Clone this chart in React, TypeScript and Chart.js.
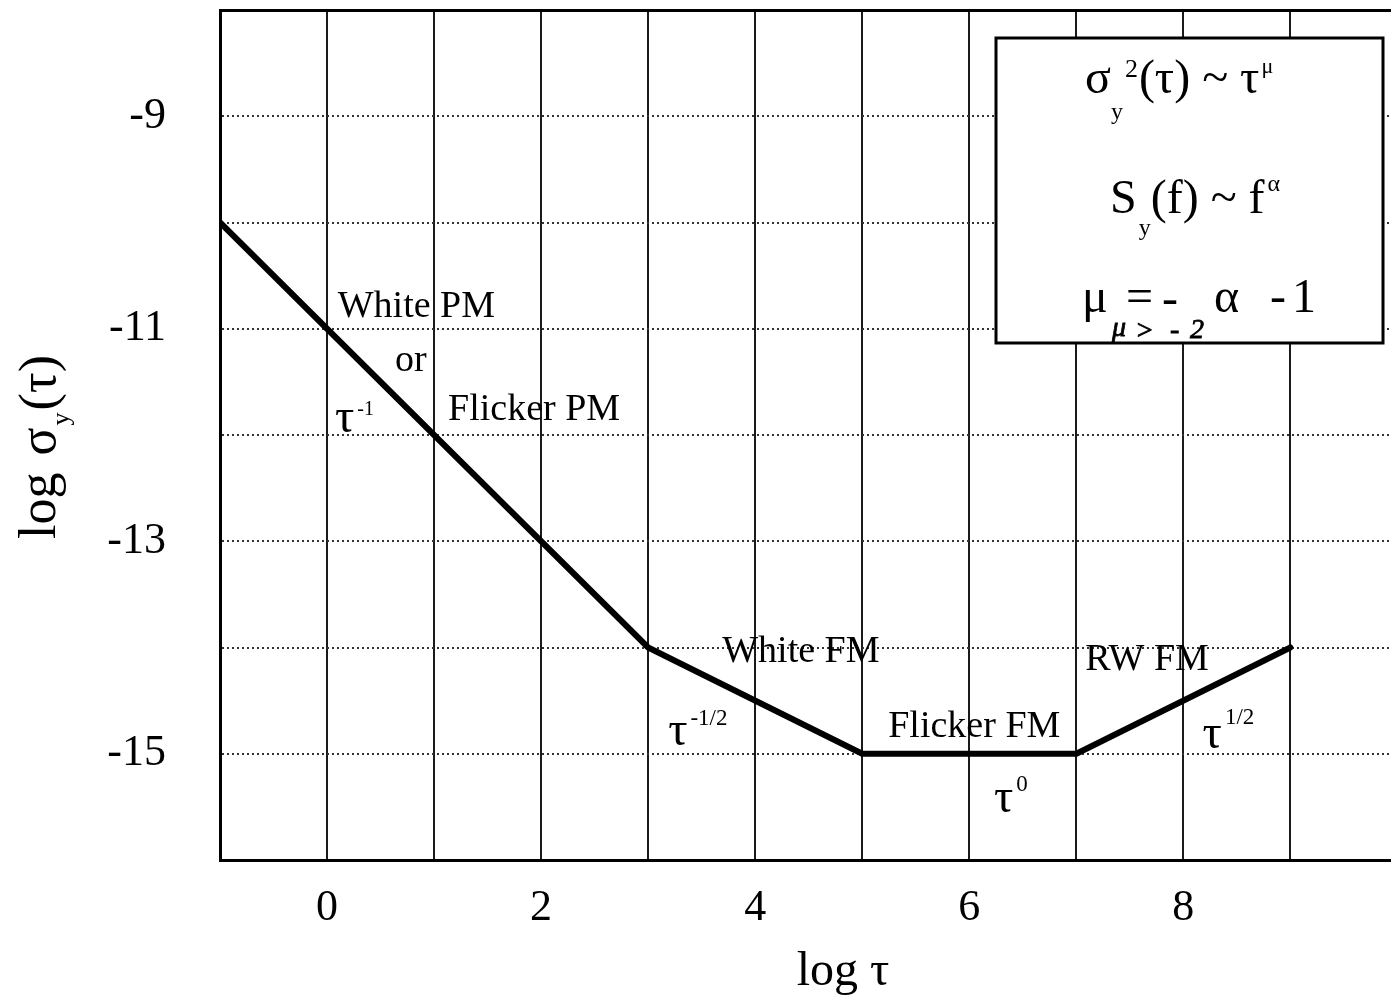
import React, { useEffect, useRef } from "react";
import { Chart, registerables } from "chart.js";

Chart.register(...registerables);

// ---- data ----
const logTau = [-1, 0, 1, 2, 3, 5, 7, 9];
const logSigma = [-10, -11, -12, -13, -14, -15, -15, -14];
const xGridValues = [-1, 0, 1, 2, 3, 4, 5, 6, 7, 8, 9];
const xTickLabels = ["0", "2", "4", "6", "8"];
const yGridValues = [-16, -15, -14, -13, -12, -11, -10, -9, -8];
const yTickLabels = ["-9", "-11", "-13", "-15"];
const X_MIN = -1;
const X_MAX = 9.94;
const Y_MIN = -16;
const Y_MAX = -8;

const SERIF = "'Liberation Serif', 'Times New Roman', serif";

type Seg = { t: string; size: number; dy?: number; gap?: number; italic?: boolean; noAdvance?: boolean };

const regionLabels: { x: number; y: number; segs: Seg[] }[] = [
  { x: 0.1, y: -10.89, segs: [{ t: "White PM", size: 38 }] },
  { x: 0.636, y: -11.4, segs: [{ t: "or", size: 38 }] },
  { x: 0.075, y: -11.97, segs: [{ t: "τ", size: 48 }, { t: "-1", size: 20, dy: -17, gap: 3 }] },
  { x: 1.131, y: -11.86, segs: [{ t: "Flicker PM", size: 38 }] },
  { x: 3.692, y: -14.136, segs: [{ t: "White FM", size: 38 }] },
  { x: 3.187, y: -14.92, segs: [{ t: "τ", size: 48 }, { t: "-1/2", size: 23, dy: -20, gap: 3 }] },
  { x: 5.243, y: -14.84, segs: [{ t: "Flicker FM", size: 38 }] },
  { x: 6.23, y: -15.55, segs: [{ t: "τ", size: 48 }, { t: "0", size: 23, dy: -21, gap: 3 }] },
  { x: 7.084, y: -14.21, segs: [{ t: "RW FM", size: 38 }] },
  { x: 8.18, y: -14.95, segs: [{ t: "τ", size: 48 }, { t: "1/2", size: 23, dy: -24, gap: 3 }] },
];

function drawRich(ctx: CanvasRenderingContext2D, x: number, y: number, segs: Seg[]) {
  let cx = x;
  for (const s of segs) {
    cx += s.gap || 0;
    ctx.font = `${s.italic ? "italic " : ""}${s.size}px ${SERIF}`;
    ctx.fillText(s.t, cx, y + (s.dy || 0));
    if (!s.noAdvance) cx += ctx.measureText(s.t).width;
  }
  return cx;
}

function richWidth(ctx: CanvasRenderingContext2D, segs: Seg[]) {
  let w = 0;
  for (const s of segs) {
    w += s.gap || 0;
    ctx.font = `${s.italic ? "italic " : ""}${s.size}px ${SERIF}`;
    if (!s.noAdvance) w += ctx.measureText(s.t).width;
  }
  return w;
}

const decorPlugin = {
  id: "decor",
  beforeDraw(chart: any) {
    const ctx = chart.ctx as CanvasRenderingContext2D;
    ctx.save();
    ctx.fillStyle = "#fff";
    ctx.fillRect(0, 0, chart.width, chart.height);
    ctx.restore();
  },
  afterDraw(chart: any) {
    const ctx = chart.ctx as CanvasRenderingContext2D;
    const xs = chart.scales.x;
    const ys = chart.scales.y;
    ctx.save();
    ctx.fillStyle = "#000";
    ctx.textAlign = "left";
    ctx.textBaseline = "alphabetic";

    // region labels
    for (const l of regionLabels) {
      drawRich(ctx, xs.getPixelForValue(l.x), ys.getPixelForValue(l.y), l.segs);
    }

    // legend / formula box
    const bx = 996, by = 38, bw = 387, bh = 305;
    ctx.fillStyle = "#fff";
    ctx.fillRect(bx, by, bw, bh);
    ctx.strokeStyle = "#000";
    ctx.lineWidth = 3;
    ctx.strokeRect(bx, by, bw, bh);
    ctx.fillStyle = "#000";

    // line 1: σ_y^2(τ) ~ τ^μ
    drawRich(ctx, 1085, 93, [
      { t: "σ", size: 48 },
      { t: "y", size: 24, dy: 26, gap: 0, noAdvance: true },
      { t: "2", size: 26, dy: -16, gap: 14 },
      { t: "(τ) ~ τ", size: 48, gap: 1 },
      { t: "μ", size: 22, dy: -20, gap: 2 },
    ]);
    // line 2: S_y(f) ~ f^α
    drawRich(ctx, 1110, 213, [
      { t: "S", size: 48 },
      { t: "y", size: 24, dy: 22, gap: 2 },
      { t: "(f) ~ f", size: 48, gap: 0 },
      { t: "α", size: 24, dy: -22, gap: 3 },
    ]);
    // line 3: μ = - α - 1
    ctx.font = `48px ${SERIF}`;
    ctx.fillText("μ", 1082, 312);
    ctx.fillText("=", 1126, 312);
    ctx.fillText("-", 1162, 314);
    ctx.fillText("α", 1214, 312);
    ctx.fillText("-", 1270, 312);
    ctx.fillText("1", 1292, 312);
    // handwritten note
    ctx.font = `italic 28px ${SERIF}`;
    ctx.lineWidth = 0.8;
    ctx.strokeStyle = "#000";
    const note: [string, number, number][] = [["μ", 1112, 336], [">", 1135, 339], ["-", 1170, 338], ["2", 1190, 338]];
    for (const [t, nx, ny] of note) {
      ctx.fillText(t, nx, ny);
      ctx.strokeText(t, nx, ny);
    }

    // axis titles
    const bottomTitle: Seg[] = [{ t: "log τ", size: 48 }];
    const bw2 = richWidth(ctx, bottomTitle);
    drawRich(ctx, 843 - bw2 / 2, 985, bottomTitle);

    const leftTitle: Seg[] = [
      { t: "log ", size: 52 },
      { t: "σ", size: 52, gap: 4 },
      { t: "y", size: 26, dy: 14, gap: 2 },
      { t: "(τ)", size: 52, gap: 2 },
    ];
    ctx.translate(55, 447);
    ctx.rotate(-Math.PI / 2);
    const lw = richWidth(ctx, leftTitle);
    drawRich(ctx, -lw / 2, 0, leftTitle);
    ctx.restore();
  },
};

export default function App() {
  const ref = useRef<HTMLCanvasElement | null>(null);

  useEffect(() => {
    if (!ref.current) return;
    const noPad = (s: any) => {
      s.paddingTop = 0;
      s.paddingBottom = 0;
      s.paddingLeft = 0;
      s.paddingRight = 0;
    };
    const chart = new Chart(ref.current, {
      type: "line",
      data: {
        datasets: [
          {
            data: logTau.map((x, i) => ({ x, y: logSigma[i] })),
            borderColor: "#000",
            borderWidth: 6,
            pointRadius: 0,
            tension: 0,
            fill: false,
            borderJoinStyle: "round",
            borderCapStyle: "round",
          } as any,
        ],
      },
      options: {
        animation: false,
        responsive: false,
        maintainAspectRatio: false,
        layout: { padding: { top: 10, right: 0, left: 0, bottom: 0 } },
        plugins: { legend: { display: false }, tooltip: { enabled: false } },
        scales: {
          x: {
            type: "linear",
            position: "bottom",
            min: X_MIN,
            max: X_MAX,
            afterBuildTicks: (s: any) => {
              s.ticks = xGridValues.map((v) => ({ value: v }));
            },
            afterFit: (s: any) => {
              s.height = 137;
              noPad(s);
            },
            grid: { color: "#1a1a1a", lineWidth: 2, drawTicks: false },
            border: { display: true, color: "#000", width: 3 },
            ticks: {
              autoSkip: false,
              maxRotation: 0,
              padding: 22,
              color: "#000",
              font: { family: SERIF, size: 44 },
              callback: (v: any) => (xTickLabels.includes(String(v)) ? String(v) : ""),
            },
          },
          top: {
            axis: "x",
            type: "linear",
            position: "top",
            min: X_MIN,
            max: X_MAX,
            afterFit: (s: any) => {
              s.height = 0;
              noPad(s);
            },
            grid: { display: false, drawTicks: false },
            border: { display: true, color: "#000", width: 3 },
            ticks: { display: false },
          },
          y: {
            type: "linear",
            min: Y_MIN,
            max: Y_MAX,
            afterBuildTicks: (s: any) => {
              s.ticks = yGridValues.map((v) => ({ value: v }));
            },
            afterFit: (s: any) => {
              s.width = 220;
              noPad(s);
            },
            grid: { color: "#333", lineWidth: 2, drawTicks: false },
            border: { display: true, color: "#000", width: 3, dash: [2, 3] },
            ticks: {
              autoSkip: false,
              padding: 54,
              color: "#000",
              font: { family: SERIF, size: 44 },
              callback: (v: any) => (yTickLabels.includes(String(v)) ? String(v) : ""),
            },
          },
        } as any,
      },
      plugins: [decorPlugin],
    });
    return () => chart.destroy();
  }, []);

  return (
    <div style={{ position: "absolute", left: 0, top: 0, width: 1391, height: 997, overflow: "hidden" }}>
      <canvas ref={ref} width={1391} height={997} style={{ display: "block" }} />
    </div>
  );
}
